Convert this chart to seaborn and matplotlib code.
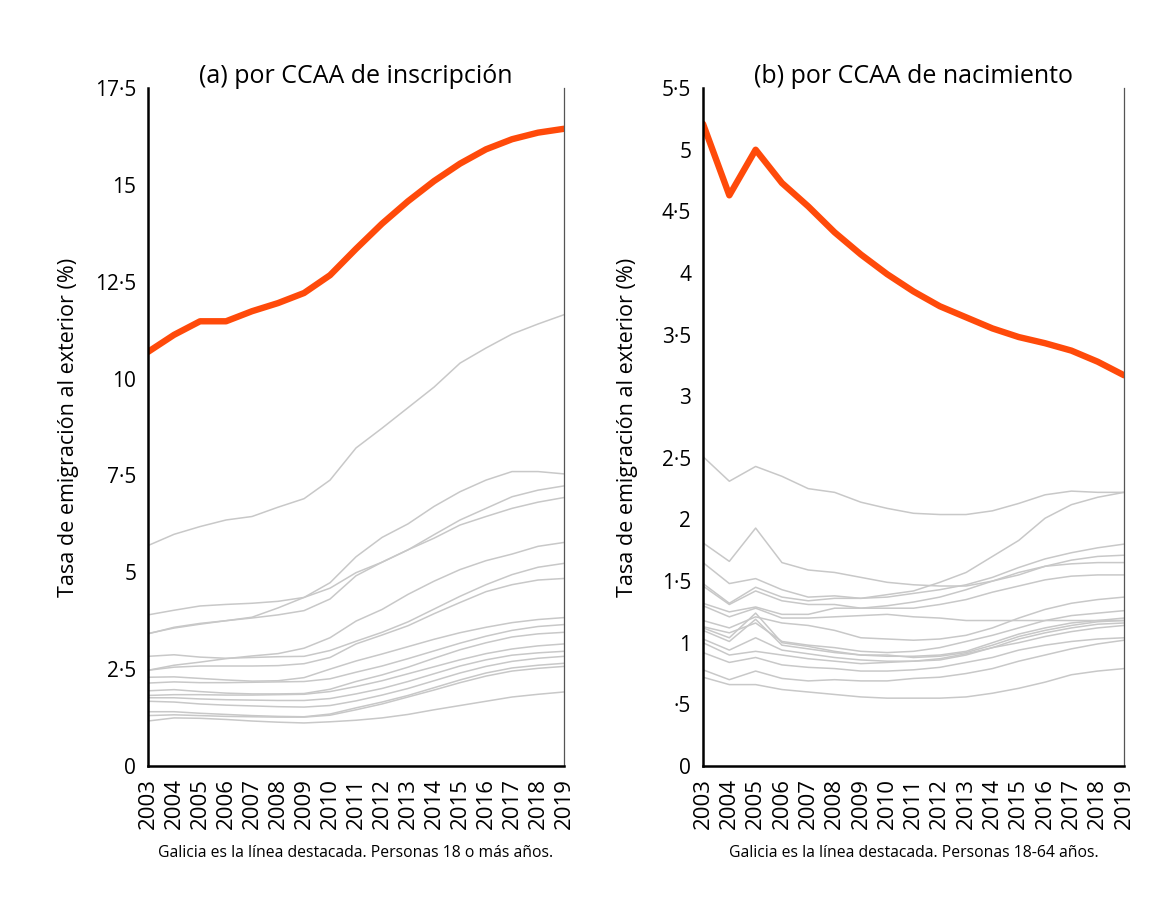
import pandas as pd
import matplotlib
matplotlib.use("Agg")
import matplotlib.pyplot as plt
import seaborn as sns

years = list(range(2003, 2020))

# Galicia (linea destacada)
galicia_a = [10.69, 11.13, 11.48, 11.48, 11.74, 11.95, 12.21, 12.67, 13.35, 14.0,
             14.58, 15.1, 15.55, 15.92, 16.18, 16.35, 16.45]
galicia_b = [5.21, 4.63, 5.0, 4.73, 4.54, 4.33, 4.15, 3.99, 3.85, 3.73,
             3.64, 3.55, 3.48, 3.43, 3.37, 3.28, 3.17]

# resto de CCAA, panel (a)
resto_a = [
    [5.69, 5.98, 6.18, 6.35, 6.44, 6.68, 6.90, 7.38, 8.21, 8.72, 9.25, 9.78, 10.40, 10.79, 11.15, 11.41, 11.65],
    [3.90, 4.02, 4.13, 4.17, 4.20, 4.25, 4.35, 4.59, 4.99, 5.26, 5.58, 5.97, 6.35, 6.65, 6.95, 7.12, 7.23],
    [3.42, 3.56, 3.66, 3.75, 3.84, 4.08, 4.35, 4.73, 5.40, 5.90, 6.25, 6.70, 7.08, 7.38, 7.60, 7.60, 7.54],
    [3.41, 3.58, 3.68, 3.75, 3.82, 3.90, 4.01, 4.31, 4.91, 5.26, 5.58, 5.88, 6.22, 6.44, 6.65, 6.81, 6.93],
    [2.83, 2.87, 2.81, 2.78, 2.80, 2.82, 2.83, 2.98, 3.22, 3.45, 3.72, 4.05, 4.38, 4.68, 4.94, 5.13, 5.23],
    [2.47, 2.60, 2.68, 2.77, 2.84, 2.90, 3.04, 3.31, 3.74, 4.04, 4.43, 4.77, 5.07, 5.30, 5.47, 5.67, 5.77],
    [2.47, 2.55, 2.58, 2.58, 2.58, 2.59, 2.64, 2.80, 3.15, 3.38, 3.62, 3.93, 4.22, 4.50, 4.68, 4.80, 4.84],
    [2.29, 2.30, 2.26, 2.22, 2.19, 2.20, 2.28, 2.50, 2.71, 2.89, 3.08, 3.27, 3.44, 3.58, 3.70, 3.78, 3.83],
    [2.14, 2.17, 2.15, 2.15, 2.16, 2.17, 2.18, 2.25, 2.42, 2.58, 2.77, 2.97, 3.17, 3.35, 3.50, 3.60, 3.65],
    [1.94, 1.97, 1.92, 1.88, 1.86, 1.86, 1.87, 1.98, 2.18, 2.35, 2.55, 2.78, 3.00, 3.18, 3.33, 3.41, 3.45],
    [1.82, 1.84, 1.84, 1.83, 1.83, 1.84, 1.85, 1.92, 2.05, 2.20, 2.38, 2.56, 2.74, 2.90, 3.02, 3.10, 3.15],
    [1.76, 1.76, 1.73, 1.71, 1.70, 1.69, 1.69, 1.74, 1.86, 2.00, 2.18, 2.38, 2.58, 2.74, 2.86, 2.92, 2.96],
    [1.67, 1.65, 1.60, 1.57, 1.55, 1.53, 1.52, 1.56, 1.68, 1.83, 2.00, 2.20, 2.40, 2.57, 2.70, 2.78, 2.83],
    [1.40, 1.40, 1.36, 1.33, 1.30, 1.28, 1.27, 1.34, 1.50, 1.65, 1.82, 2.02, 2.22, 2.40, 2.53, 2.60, 2.65],
    [1.30, 1.32, 1.30, 1.28, 1.27, 1.26, 1.26, 1.31, 1.45, 1.60, 1.78, 1.96, 2.15, 2.32, 2.45, 2.52, 2.57],
    [1.16, 1.24, 1.23, 1.20, 1.16, 1.13, 1.11, 1.14, 1.18, 1.24, 1.33, 1.45, 1.56, 1.67, 1.78, 1.85, 1.91],
]

# resto de CCAA, panel (b)
resto_b = [
    [2.51, 2.31, 2.43, 2.35, 2.25, 2.22, 2.14, 2.09, 2.05, 2.04, 2.04, 2.07, 2.13, 2.20, 2.23, 2.22, 2.22],
    [1.81, 1.66, 1.93, 1.65, 1.59, 1.57, 1.53, 1.49, 1.47, 1.46, 1.46, 1.50, 1.55, 1.62, 1.67, 1.70, 1.71],
    [1.65, 1.48, 1.52, 1.43, 1.37, 1.38, 1.36, 1.39, 1.42, 1.49, 1.57, 1.70, 1.83, 2.01, 2.12, 2.18, 2.22],
    [1.48, 1.32, 1.45, 1.37, 1.34, 1.36, 1.36, 1.37, 1.40, 1.43, 1.47, 1.53, 1.61, 1.68, 1.73, 1.77, 1.80],
    [1.46, 1.31, 1.42, 1.34, 1.31, 1.31, 1.28, 1.30, 1.33, 1.37, 1.43, 1.50, 1.57, 1.62, 1.64, 1.65, 1.65],
    [1.32, 1.25, 1.29, 1.23, 1.23, 1.28, 1.28, 1.28, 1.28, 1.31, 1.35, 1.41, 1.46, 1.51, 1.54, 1.55, 1.55],
    [1.30, 1.21, 1.28, 1.20, 1.20, 1.21, 1.22, 1.23, 1.21, 1.20, 1.18, 1.18, 1.18, 1.18, 1.18, 1.18, 1.18],
    [1.18, 1.12, 1.21, 1.16, 1.14, 1.10, 1.04, 1.03, 1.02, 1.03, 1.06, 1.12, 1.20, 1.27, 1.32, 1.35, 1.37],
    [1.13, 1.08, 1.16, 1.01, 0.98, 0.96, 0.93, 0.92, 0.93, 0.96, 1.01, 1.06, 1.12, 1.18, 1.22, 1.24, 1.26],
    [1.10, 1.01, 1.19, 0.98, 0.95, 0.92, 0.90, 0.89, 0.89, 0.90, 0.93, 1.00, 1.07, 1.12, 1.16, 1.18, 1.20],
    [1.12, 1.04, 1.24, 1.00, 0.97, 0.93, 0.90, 0.90, 0.88, 0.89, 0.92, 0.98, 1.05, 1.10, 1.14, 1.17, 1.18],
    [1.03, 0.94, 1.04, 0.94, 0.91, 0.88, 0.86, 0.85, 0.85, 0.86, 0.90, 0.96, 1.03, 1.08, 1.12, 1.15, 1.16],
    [1.00, 0.90, 0.93, 0.90, 0.87, 0.85, 0.83, 0.84, 0.85, 0.87, 0.91, 0.96, 1.00, 1.05, 1.09, 1.12, 1.14],
    [0.92, 0.84, 0.88, 0.82, 0.80, 0.79, 0.77, 0.77, 0.78, 0.80, 0.84, 0.88, 0.94, 0.98, 1.01, 1.03, 1.04],
    [0.78, 0.70, 0.77, 0.71, 0.69, 0.70, 0.69, 0.69, 0.71, 0.72, 0.75, 0.79, 0.85, 0.90, 0.95, 0.99, 1.02],
    [0.72, 0.66, 0.66, 0.62, 0.60, 0.58, 0.56, 0.55, 0.55, 0.55, 0.56, 0.59, 0.63, 0.68, 0.74, 0.77, 0.79],
]

yticks_a = [0, 2.5, 5, 7.5, 10, 12.5, 15, 17.5]
ylabels_a = ["0", "2·5", "5", "7·5", "10", "12·5", "15", "17·5"]
yticks_b = [0, 0.5, 1, 1.5, 2, 2.5, 3, 3.5, 4, 4.5, 5, 5.5]
ylabels_b = ["0", "·5", "1", "1·5", "2", "2·5", "3", "3·5", "4", "4·5", "5", "5·5"]

titulos = ["(a) por CCAA de inscripción", "(b) por CCAA de nacimiento"]
notas = ["Galicia es la línea destacada. Personas 18 o más años.",
         "Galicia es la línea destacada. Personas 18-64 años."]
ylab = "Tasa de emigración al exterior (%)"

sns.set_style("white")
plt.rcParams["font.family"] = ["Open Sans", "DejaVu Sans"]
plt.rcParams["text.color"] = "black"
plt.rcParams["axes.labelcolor"] = "black"
plt.rcParams["xtick.color"] = "black"
plt.rcParams["ytick.color"] = "black"

fig = plt.figure(figsize=(11.62, 8.99), dpi=100)
ax_a = fig.add_axes([0.1274, 0.148, 0.358, 0.754])
ax_b = fig.add_axes([0.605, 0.148, 0.3623, 0.754])


def panel(ax, resto, galicia, yticks, ylabels, titulo, nota, labx):
    df = pd.DataFrame([{"ccaa": i, "year": y, "tasa": v}
                       for i, serie in enumerate(resto)
                       for y, v in zip(years, serie)])
    sns.lineplot(data=df, x="year", y="tasa", units="ccaa", estimator=None,
                 color="#c8c8c8", lw=1.1, ax=ax, legend=False)
    sns.lineplot(x=years, y=galicia, color="#ff4a0a", lw=4.6, ax=ax)
    ax.set_xlim(years[0], years[-1])
    ax.set_ylim(yticks[0], yticks[-1])
    ax.set_xticks(years)
    ax.set_xticklabels([str(y) for y in years], rotation=90)
    ax.set_yticks(yticks)
    ax.set_yticklabels(ylabels)
    ax.tick_params(axis="both", direction="inout", length=11, width=1.4,
                   labelsize=15, color="black", pad=3)
    ax.tick_params(axis="x", pad=3, labelsize=16)
    for s in ["left", "bottom"]:
        ax.spines[s].set_linewidth(1.8)
        ax.spines[s].set_color("black")
    ax.spines["top"].set_visible(False)
    ax.spines["right"].set_linewidth(0.9)
    ax.spines["right"].set_color("#555555")
    ax.set_xlabel("")
    ax.set_ylabel(ylab, fontsize=15.5)
    ax.yaxis.set_label_coords(labx, 0.5)
    ax.set_title(titulo, fontsize=18, pad=4)
    ax.text(0.5, -0.129, nota, transform=ax.transAxes, ha="center", va="center",
            fontsize=11.3)


panel(ax_a, resto_a, galicia_a, yticks_a, ylabels_a, titulos[0], notas[0], -0.165)
panel(ax_b, resto_b, galicia_b, yticks_b, ylabels_b, titulos[1], notas[1], -0.155)

fig.savefig("out.png", dpi=100, facecolor="white")
